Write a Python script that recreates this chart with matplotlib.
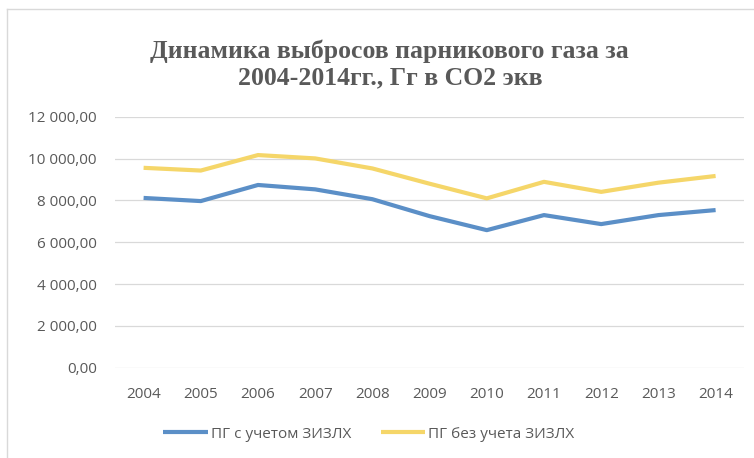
import matplotlib.pyplot as plt
from matplotlib.lines import Line2D
from matplotlib.ticker import FuncFormatter

years = ['2004', '2005', '2006', '2007', '2008', '2009', '2010', '2011', '2012', '2013', '2014']
with_lulucf = [8120, 7970, 8740, 8530, 8060, 7250, 6580, 7300, 6870, 7300, 7540]
without_lulucf = [9560, 9430, 10170, 10010, 9530, 8800, 8100, 8890, 8410, 8850, 9170]
yticks = [0, 2000, 4000, 6000, 8000, 10000, 12000]

label_color = '#595959'
tick_font = 'Open Sans'

def fmt(v, pos):
    s = '{:,.2f}'.format(v)
    return s.replace(',', ' ').replace('.', ',')

fig = plt.figure(figsize=(7.54, 4.58), dpi=100)
ax = fig.add_axes([0.1525, 0.197, 0.8345, 0.548])

x = range(len(years))
ax.plot(x, with_lulucf, color='#5b8fc7', lw=3.0, solid_capstyle='butt',
        label='ПГ с учетом ЗИЗЛХ')
ax.plot(x, without_lulucf, color='#f5d669', lw=3.0, solid_capstyle='butt',
        label='ПГ без учета ЗИЗЛХ')

ax.set_xlim(-0.5, len(years) - 0.5)
ax.set_ylim(0, 12000)
ax.set_yticks(yticks)
ax.yaxis.set_major_formatter(FuncFormatter(fmt))
ax.set_xticks(list(x))
ax.set_xticklabels(years)
ax.grid(axis='y', color='#d9d9d9', lw=0.9)
ax.set_axisbelow(True)
for s in ax.spines.values():
    s.set_visible(False)
ax.tick_params(length=0, labelsize=11, labelcolor=label_color, pad=13)
ax.tick_params(axis='x', pad=14)
for lbl in ax.get_xticklabels() + ax.get_yticklabels():
    lbl.set_fontfamily(tick_font)

fig.text(0.517, 0.86, 'Динамика выбросов парникового газа за\n2004-2014гг., Гг в СО2 экв',
         ha='center', va='center', fontsize=18.5, fontweight='bold',
         family='Liberation Serif', color=label_color, linespacing=1.17)

leg = fig.legend(loc='center', bbox_to_anchor=(0.489, 0.052), ncol=2, frameon=False,
                 prop={'family': tick_font, 'size': 11}, handlelength=2.9,
                 columnspacing=1.95, handletextpad=0.2)
for t in leg.get_texts():
    t.set_color(label_color)

# light border of the chart area (top and left)
fig.add_artist(Line2D([0.009, 1.0], [0.98, 0.98], color='#d9d9d9', lw=1))
fig.add_artist(Line2D([0.009, 0.009], [0.0, 0.98], color='#d9d9d9', lw=1))

fig.savefig('out.png', dpi=100)
